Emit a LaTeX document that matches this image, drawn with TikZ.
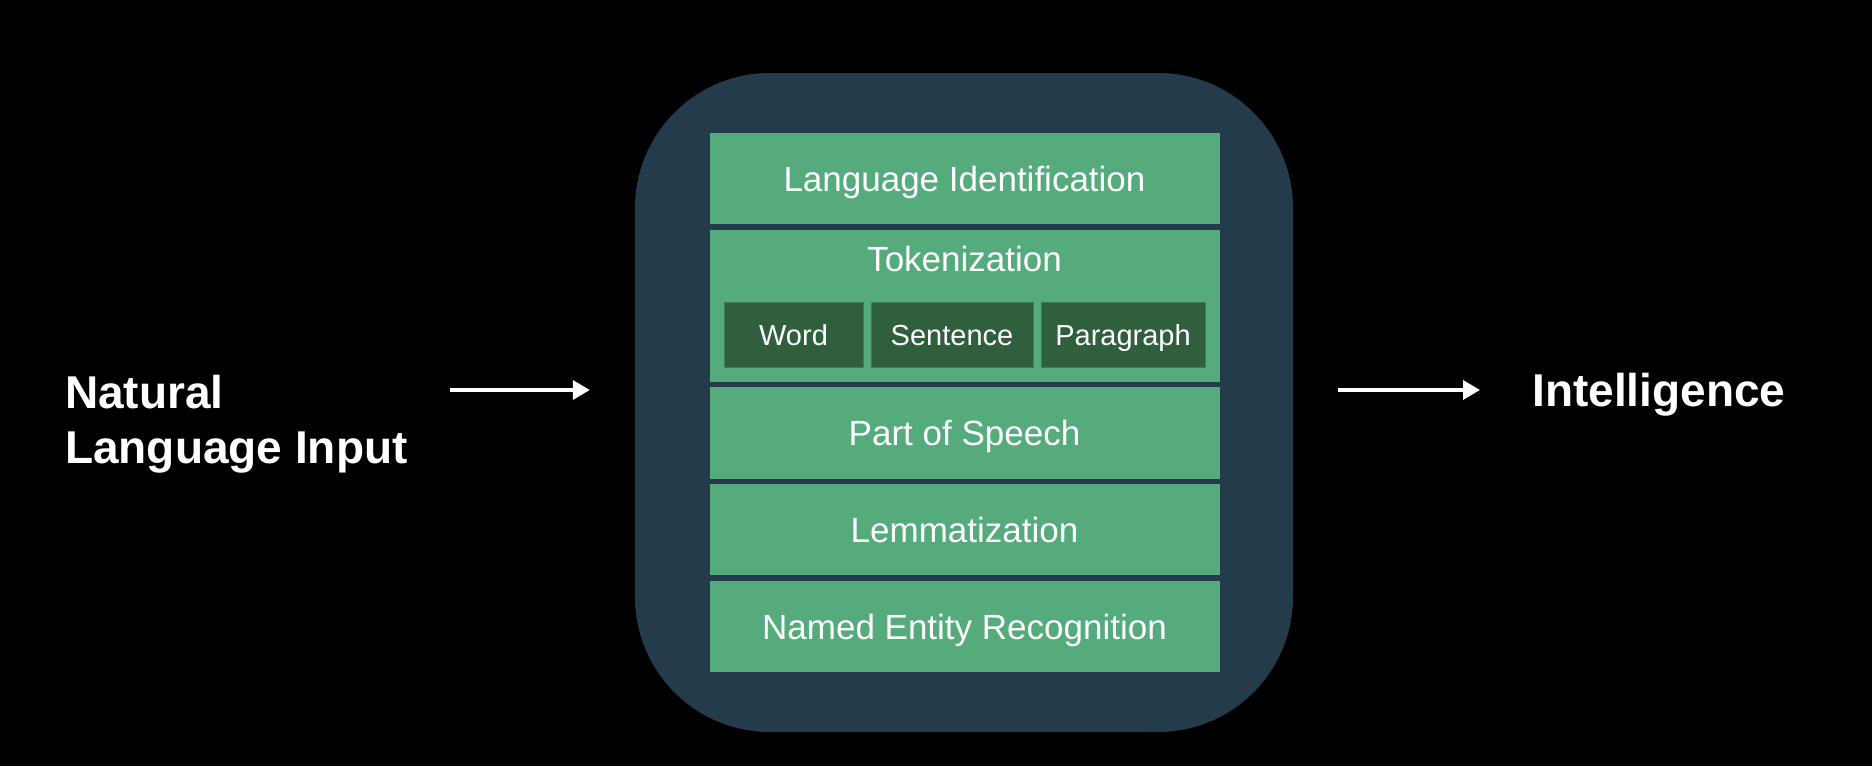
\documentclass[tikz,border=0pt]{standalone}
\usepackage{fontspec}
\setmainfont{Liberation Sans}
\usetikzlibrary{arrows.meta,calc}
\definecolor{panelc}{HTML}{243B4C}
\definecolor{greenc}{HTML}{55AB7B}
\definecolor{darkgreen}{HTML}{2F5F3D}
\definecolor{subedge}{HTML}{3F7D52}
\tikzset{
  layer/.style={rectangle, fill=greenc, inner sep=0pt, minimum width=510pt,
    text=white, font=\fontsize{35}{40}\selectfont, text height=25pt, text depth=0pt},
  subbox/.style={rectangle, fill=darkgreen, draw=subedge, line width=1pt, inner sep=0pt,
    minimum height=65pt, text=white, font=\fontsize{29}{34}\selectfont, text height=21pt, text depth=0pt},
  bigtext/.style={text=white, inner sep=0pt, font=\fontsize{46}{55}\selectfont\bfseries},
  arr/.style={draw=white, line width=3.5pt, -{Triangle[length=17pt,width=19pt]}}
}
\begin{document}
\begin{tikzpicture}[x=1pt,y=-1pt]
\useasboundingbox (0,0) rectangle (1872,766);
\fill[black] (0,0) rectangle (1872,766);
\node[rectangle, fill=panelc, rounded corners=135pt, minimum width=658pt, minimum height=659pt, inner sep=0pt] (panel) at (964,402.5) {};
\node[layer, minimum height=91pt] (langid) at (964.5,178.5) {Language Identification};
\node[layer, minimum height=152pt] (token) at (964.5,306) {};
\node[text=white, inner sep=0pt, font=\fontsize{35}{40}\selectfont, text height=25pt, text depth=0pt] (tokt) at (964.5,259) {Tokenization};
\node[subbox, minimum width=139pt] (word) at (793.5,334.5) {Word};
\node[subbox, minimum width=162pt] (sent) at (952,334.5) {Sentence};
\node[subbox, minimum width=164pt] (para) at (1123,334.5) {Paragraph};
\node[layer, minimum height=92pt] (pos) at (964.5,433) {Part of Speech};
\node[layer, minimum height=91pt] (lemma) at (964.5,529.5) {Lemmatization};
\node[layer, minimum height=91pt] (ner) at (964.5,626.5) {Named Entity Recognition};
\node[bigtext, align=left, anchor=north west] (input) at (65,375) {Natural\\Language Input};
\node[bigtext, anchor=west, text height=33pt, text depth=0pt] (intel) at (1532,390) {Intelligence};
\draw[arr] ($(input.east |- intel.west)+(42,0)$) -- ($(panel.west |- intel.west)+(-45,0)$);
\draw[arr] ($(panel.east |- intel.west)+(45,0)$) -- ($(intel.west)+(-52,0)$);
\end{tikzpicture}
\end{document}
